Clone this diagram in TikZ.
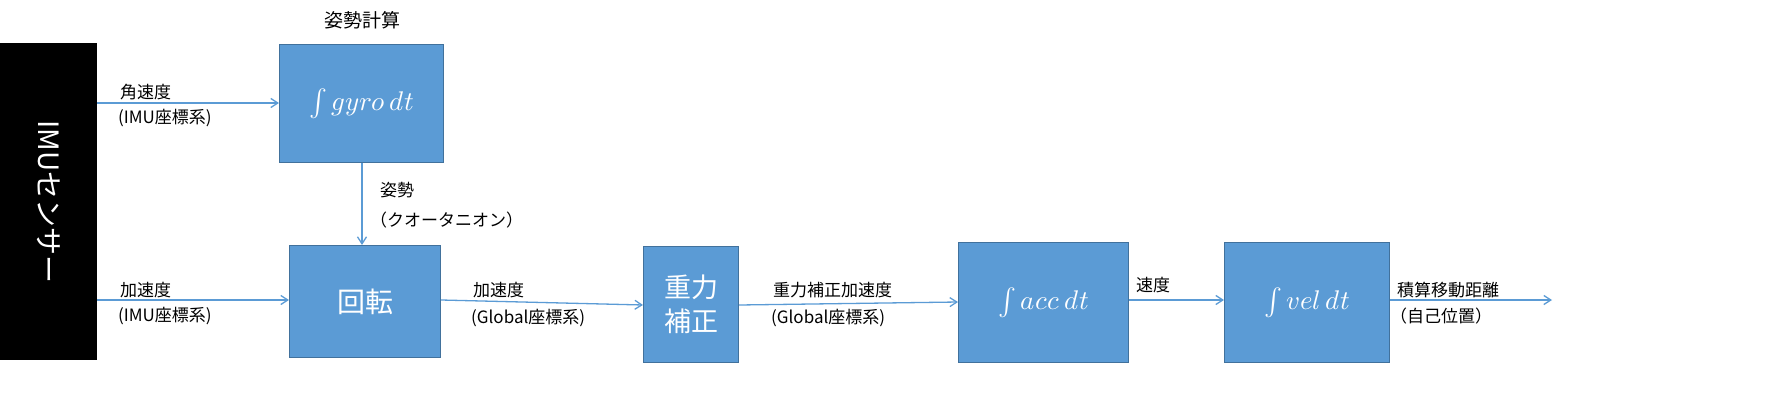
\documentclass[tikz,border=0pt]{standalone}
\usepackage{fontspec}
\usepackage{unicode-math}
\setmathfont{Latin Modern Math}
\setmainfont{Noto Sans CJK JP}
\usetikzlibrary{arrows.meta}
\definecolor{boxfill}{HTML}{5B9BD5}
\definecolor{boxline}{HTML}{41719C}
\definecolor{arr}{HTML}{5B9BD5}
\begin{document}
\begin{tikzpicture}[x=1pt,y=-1pt,
  blk/.style={draw=boxline,line width=1.2pt,fill=boxfill,text=white,inner sep=0pt,anchor=north west},
  conn/.style={draw=arr,line width=1.3pt,-{Straight Barb[length=7pt,width=9pt]}},
  lab/.style={font=\fontsize{17}{21}\selectfont,align=left,inner sep=0pt},
  mth/.style={font=\fontsize{27}{31}\selectfont}]
\useasboundingbox (0,0) rectangle (1782,415);
\node[fill=black,minimum width=97pt,minimum height=317pt,inner sep=0pt,anchor=north west] (imu) at (0,43) {};
\node[text=white,rotate=-90,font=\fontsize{28}{32}\selectfont] at (imu.center) {IMUセンサー};
\node[blk,minimum width=164pt,minimum height=118pt,mth] (gyro) at (279,44) {$\int gyro\,dt$};
\node[lab,font=\fontsize{19}{23}\selectfont] at (362,20) {姿勢計算};
\node[blk,minimum width=151pt,minimum height=112pt,font=\fontsize{28}{32}\selectfont] (rot) at (289,245) {回転};
\node[blk,minimum width=95pt,minimum height=116pt,align=center,font=\fontsize{27}{34}\selectfont] (grav) at (643,246) {重力\\補正};
\node[blk,minimum width=170pt,minimum height=120pt,mth] (acc) at (958,242) {$\int acc\,dt$};
\node[blk,minimum width=165pt,minimum height=120pt,mth] (vel) at (1224,242) {$\int vel\,dt$};
\coordinate (a1) at (97,103);
\coordinate (a2) at (97,300);
\coordinate (e) at (1552,300);
\draw[conn] (a1) -- (gyro.west|-a1);
\draw[conn] (a2) -- (rot.west|-a2);
\draw[conn] (rot.east|-0,300) -- (grav.west|-0,305);
\draw[conn] (grav.east|-0,305) -- (acc.west|-0,302);
\draw[conn] (acc.east|-0,300) -- (vel.west|-0,300);
\draw[conn] (vel.east|-0,300) -- (e);
\draw[conn] (gyro.south-|362,0) -- (rot.north-|362,0);
\node[lab,anchor=west] at (120,92) {角速度};
\node[lab,anchor=west] at (118,118) {(IMU座標系)};
\node[lab,anchor=west] at (120,290) {加速度};
\node[lab,anchor=west] at (118,316) {(IMU座標系)};
\node[lab,anchor=west] at (380,190) {姿勢};
\node[lab,anchor=west] at (370,220) {（クオータニオン）};
\node[lab,anchor=west] at (473,290) {加速度};
\node[lab,anchor=west] at (471,318) {(Global座標系)};
\node[lab,anchor=west] at (773,290) {重力補正加速度};
\node[lab,anchor=west] at (771,318) {(Global座標系)};
\node[lab,anchor=west] at (1136,285) {速度};
\node[lab,anchor=west] at (1397,290) {積算移動距離};
\node[lab,anchor=west] at (1390,316) {（自己位置）};
\end{tikzpicture}
\end{document}
